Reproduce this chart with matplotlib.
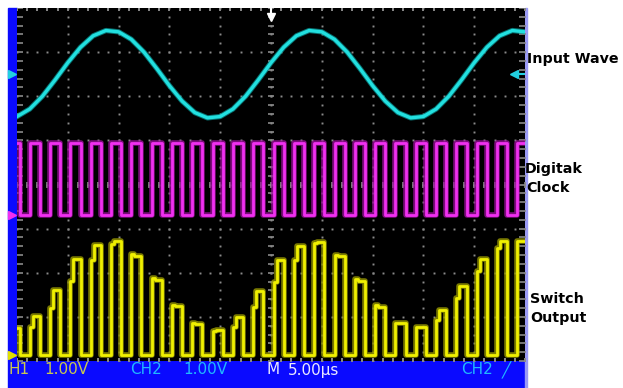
import numpy as np
import matplotlib.pyplot as plt
from matplotlib.patches import Rectangle

# --- Oszilloskop-Daten (5 us/div, 10 div breit, 8 div hoch) ---
input_t_us = np.linspace(0, 50, 41)
input_div = [5.54, 5.71, 6.00, 6.37, 6.76, 7.11, 7.37, 7.49, 7.46, 7.29, 7.00,
             6.63, 6.24, 5.89, 5.63, 5.51, 5.54, 5.71, 6.00, 6.37, 6.76, 7.11,
             7.37, 7.49, 7.46, 7.29, 7.00, 6.63, 6.24, 5.89, 5.63, 5.51, 5.54,
             5.71, 6.00, 6.37, 6.76, 7.11, 7.37, 7.49, 7.46]

# Takt: steigende Flanken (us), High-Dauer, Pegel
clock_rise_us = [1.25, 3.25, 5.25, 7.25, 9.25, 11.25, 13.25, 15.25, 17.25, 19.25,
                 21.25, 23.25, 25.25, 27.25, 29.25, 31.25, 33.25, 35.25, 37.25,
                 39.25, 41.25, 43.25, 45.25, 47.25, 49.25]
clock_first_fall_us = 0.25
clock_high_us = 1.0
clock_hi_div = 4.95
clock_lo_div = 3.30

# Schalterausgang: je Puls zwei Dachwerte (div), Grundlinie
switch_top1 = [0.76, 1.19, 1.82, 2.28, 2.66, 2.42, 1.88, 1.28, 0.86, 0.69,
               0.78, 1.22, 1.80, 2.30, 2.68, 2.40, 1.86, 1.26, 0.85, 0.78,
               0.92, 1.42, 2.03, 2.55, 2.71]
switch_top2 = [1.03, 1.60, 2.32, 2.62, 2.71, 2.39, 1.84, 1.24, 0.84, 0.70,
               1.00, 1.58, 2.30, 2.60, 2.70, 2.37, 1.82, 1.22, 0.85, 0.78,
               1.15, 1.71, 2.32, 2.71, 2.71]
switch_first_top = 0.74
switch_step_us = 0.3
switch_base_div = 0.14

input_offset_div = 6.5
trigger_t_us = 25.0

W, H = 623, 388
fig = plt.figure(figsize=(W / 100, H / 100), dpi=100)
fig.patch.set_facecolor('white')

def fx(px):
    return px / W

def fy(py):
    return 1 - py / H

# Bildschirm
left, right, top, bottom = 17, 525, 8, 361
ax = fig.add_axes([fx(left), fy(bottom), (right - left) / W, (bottom - top) / H])
ax.set_facecolor('black')
ax.set_xlim(0, 50)
ax.set_ylim(0, 8)
ax.set_xticks([])
ax.set_yticks([])
for s in ax.spines.values():
    s.set_visible(False)

# blaue Leisten
fig.patches.append(Rectangle((fx(8), fy(bottom)), (left - 8) / W, (bottom - top) / H,
                             transform=fig.transFigure, color='#0a0aff', zorder=-1))
fig.patches.append(Rectangle((fx(8), 0), (right - 8) / W, fy(bottom),
                             transform=fig.transFigure, color='#0a0aff', zorder=-1))
fig.patches.append(Rectangle((fx(right), 0), 1.5 / W, fy(top),
                             transform=fig.transFigure, color='#9a9af5', zorder=-1))

# Raster
gc = '#8a8a8a'
ys_dots = np.arange(0, 8.01, 0.2)
xs_dots = np.arange(0, 50.01, 1.0)
for gx in range(5, 50, 5):
    ax.plot([gx] * len(ys_dots), ys_dots, ls='none', marker='s', ms=1.4, color=gc, mew=0)
for gy in range(1, 8):
    ax.plot(xs_dots, [gy] * len(xs_dots), ls='none', marker='s', ms=1.4, color=gc, mew=0)
# Mittelachsen-Teilstriche
ax.plot([25] * len(ys_dots), ys_dots, ls='none', marker='_', ms=5, mew=1.2, color=gc)
ax.plot(xs_dots, [4] * len(xs_dots), ls='none', marker='|', ms=5, mew=1.2, color=gc)
# Randteilstriche
ax.plot(xs_dots, [8] * len(xs_dots), ls='none', marker='|', ms=5, mew=1.4, color=gc)
ax.plot(xs_dots, [0] * len(xs_dots), ls='none', marker='|', ms=5, mew=1.4, color=gc)
ax.plot([0] * len(ys_dots), ys_dots, ls='none', marker='_', ms=8, mew=1.2, color=gc)
ax.plot([50] * len(ys_dots), ys_dots, ls='none', marker='_', ms=8, mew=1.2, color=gc)

# Eingangssinus
ax.plot(input_t_us, input_div, color='#0aa0a0', lw=3.8, alpha=0.7, solid_joinstyle='round')
ax.plot(input_t_us, input_div, color='#22e0e0', lw=2.4, solid_joinstyle='round')

# Takt
cx = [0.0, clock_first_fall_us, clock_first_fall_us]
cy = [clock_hi_div, clock_hi_div, clock_lo_div]
for r in clock_rise_us:
    cx += [r, r, r + clock_high_us, r + clock_high_us]
    cy += [clock_lo_div, clock_hi_div, clock_hi_div, clock_lo_div]
ax.plot(cx, cy, color='#9a109a', lw=4, alpha=0.8)
ax.plot(cx, cy, color='#f030f0', lw=2.0)

# Schalterausgang
sx = [0.0, clock_first_fall_us, clock_first_fall_us]
sy = [switch_first_top, switch_first_top, switch_base_div]
for r, t1, t2 in zip(clock_rise_us, switch_top1, switch_top2):
    sx += [r, r, r + switch_step_us, r + switch_step_us, r + clock_high_us, r + clock_high_us]
    sy += [switch_base_div, t1, t1, t2, t2, switch_base_div]
ax.plot(sx, sy, color='#9a9a00', lw=4, alpha=0.8)
ax.plot(sx, sy, color='#f0f000', lw=2.0)

# Kanalmarken und Trigger
mk_x = -0.45
ax.plot([mk_x], [input_offset_div], marker='>', ms=6, color='#22d0e0', clip_on=False)
ax.plot([mk_x], [clock_lo_div], marker='>', ms=6, color='#f030f0', clip_on=False)
ax.plot([mk_x], [switch_base_div], marker='>', ms=6, color='#e0e000', clip_on=False)
ax.plot([48.9, 49.9], [input_offset_div] * 2, color='#22d0e0', lw=1.5)
ax.plot([48.9], [input_offset_div], marker='<', ms=6, color='#22d0e0')
ax.plot([trigger_t_us] * 2, [8, 7.8], color='white', lw=1.5)
ax.plot([trigger_t_us], [7.8], marker='v', ms=6, color='white')

# Statuszeile
ty = fy(370)
fs = 11
fig.text(fx(9), ty, 'H1', color='#c8c850', fontsize=fs, va='center')
fig.text(fx(44), ty, '1.00V', color='#c8c850', fontsize=fs, va='center')
fig.text(fx(130), ty, 'CH2', color='#20b8ff', fontsize=fs, va='center')
fig.text(fx(183), ty, '1.00V', color='#20b8ff', fontsize=fs, va='center')
fig.text(fx(267), ty, 'M', color='#e8e8ff', fontsize=fs, va='center')
fig.text(fx(288), ty, '5.00\u00b5s', color='#e8e8ff', fontsize=fs, va='center')
fig.text(fx(461), ty, 'CH2', color='#20b8ff', fontsize=fs, va='center')
fig.text(fx(502), ty, '\u2571', color='#20b8ff', fontsize=fs, va='center')

# Beschriftungen rechts
lab = dict(fontsize=10.3, fontweight='bold', color='black', va='baseline')
fig.text(fx(527), fy(63), 'Input Wave', **lab)
fig.text(fx(525), fy(173), 'Digitak', **lab)
fig.text(fx(526), fy(192), 'Clock', **lab)
fig.text(fx(530), fy(303), 'Switch', **lab)
fig.text(fx(530), fy(322), 'Output', **lab)

fig.savefig('out.png', dpi=100)
